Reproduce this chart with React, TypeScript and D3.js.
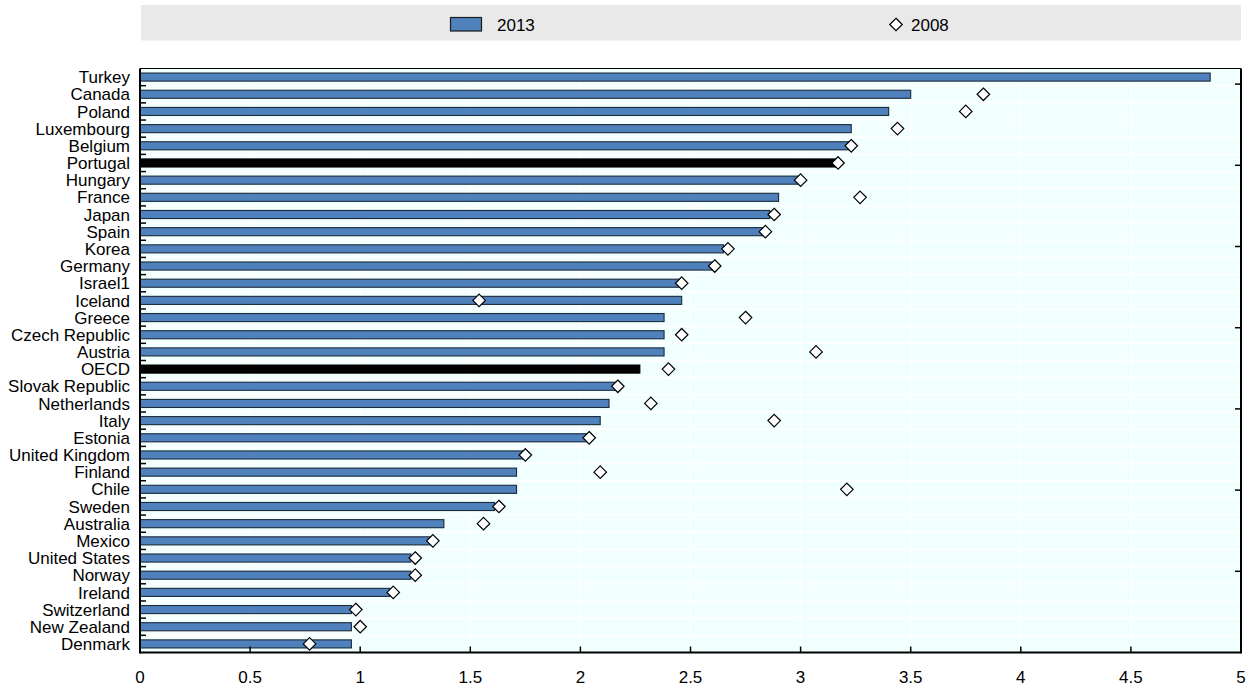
import React from "react";
import * as d3 from "d3";

const countries = ["Turkey","Canada","Poland","Luxembourg","Belgium","Portugal","Hungary","France","Japan","Spain","Korea","Germany","Israel1","Iceland","Greece","Czech Republic","Austria","OECD","Slovak Republic","Netherlands","Italy","Estonia","United Kingdom","Finland","Chile","Sweden","Australia","Mexico","United States","Norway","Ireland","Switzerland","New Zealand","Denmark"];
const values2013 = [4.86,3.50,3.40,3.23,3.22,3.16,2.99,2.90,2.86,2.83,2.65,2.60,2.45,2.46,2.38,2.38,2.38,2.27,2.165,2.13,2.09,2.04,1.74,1.71,1.71,1.61,1.38,1.32,1.23,1.23,1.135,0.96,0.96,0.96];
const values2008: (number | null)[] = [null,3.83,3.75,3.44,3.23,3.17,3.00,3.27,2.88,2.84,2.67,2.61,2.46,1.54,2.75,2.46,3.07,2.40,2.17,2.32,2.88,2.04,1.75,2.09,3.21,1.63,1.56,1.33,1.25,1.25,1.15,0.98,1.00,0.77];
const highlighted = ["Portugal", "OECD"];
const xTicks = [0,0.5,1,1.5,2,2.5,3,3.5,4,4.5,5];
const rightTicks = [1,2,3,4,5,6,7];
const legendLabels = ["2013", "2008"];

const W = 1258, H = 690;
const left = 140, right = 1241, top = 68.5, bottom = 652.5;
const FONT = "'Liberation Sans', Arial, sans-serif";

export default function App() {
  const x = d3.scaleLinear().domain([0, 5]).range([left, right]);
  const y = d3.scaleBand<string>().domain(countries).range([top, bottom]).paddingInner(0.53).paddingOuter(0.265);
  const yr = d3.scaleLinear().domain([0, (bottom - top) / 81.2]).range([bottom, top]);
  const step = y.step();
  const bw = y.bandwidth();
  const diamond = d3.symbol().type(d3.symbolDiamond2).size(100)() as string;
  const bounds = countries.map((_, i) => top + i * step).slice(1);

  return (
    <svg width={W} height={H} style={{ position: "absolute", left: 0, top: 0, background: "#fff" }} fontFamily={FONT}>
      {/* legend */}
      <rect x={141} y={5} width={1100} height={35.5} fill="#E9E9E9" />
      <rect x={450.5} y={17.5} width={31} height={13.5} fill="#4F81BD" stroke="#1a1a1a" strokeWidth={1.2} />
      <text x={497} y={25} dy="0.35em" fontSize={17} fill="#000">{legendLabels[0]}</text>
      <path d={diamond} transform="translate(896,24.5)" fill="#fff" stroke="#000" strokeWidth={1.2} />
      <text x={911} y={25} dy="0.35em" fontSize={17} fill="#000">{legendLabels[1]}</text>

      {/* plot background */}
      <rect x={left} y={top} width={right - left} height={bottom - top} fill="#F2FFFF" />
      {xTicks.slice(1, -1).map(t => (
        <line key={"gv" + t} x1={x(t)} x2={x(t)} y1={top} y2={bottom} stroke="#fff" strokeWidth={1.5} />
      ))}
      {bounds.map((b, i) => (
        <line key={"gh" + i} x1={left} x2={right} y1={b} y2={b} stroke="#fff" strokeWidth={1.5} />
      ))}

      {/* bars */}
      {countries.map((c, i) => {
        const hl = highlighted.includes(c);
        return (
          <rect key={"b" + c} x={x(0)} y={y(c)!} width={x(values2013[i]) - x(0)} height={bw}
            fill={hl ? "#000" : "#4F81BD"} stroke={hl ? "#000" : "#1d2a38"} strokeWidth={1.1} />
        );
      })}

      {/* diamonds */}
      {countries.map((c, i) => values2008[i] == null ? null : (
        <path key={"d" + c} d={diamond} transform={`translate(${x(values2008[i] as number)},${y(c)! + bw / 2})`}
          fill="#fff" stroke="#000" strokeWidth={1.2} />
      ))}

      {/* axes frame */}
      <line x1={left} x2={left} y1={top} y2={bottom + 1} stroke="#000" strokeWidth={2} />
      <line x1={left} x2={right} y1={bottom} y2={bottom} stroke="#000" strokeWidth={2} />
      <line x1={right} x2={right} y1={top} y2={bottom + 1} stroke="#000" strokeWidth={2} />
      <line x1={left} x2={right} y1={top} y2={top} stroke="#000" strokeWidth={1} />

      {/* left ticks */}
      {bounds.map((b, i) => (
        <line key={"lt" + i} x1={left} x2={left + 6} y1={b} y2={b} stroke="#000" strokeWidth={1.5} />
      ))}
      {/* right ticks */}
      {rightTicks.map(t => (
        <line key={"rt" + t} x1={right - 6} x2={right} y1={yr(t)} y2={yr(t)} stroke="#000" strokeWidth={1.5} />
      ))}
      {/* bottom ticks */}
      {xTicks.slice(1, -1).map(t => (
        <line key={"bt" + t} x1={x(t)} x2={x(t)} y1={bottom} y2={bottom - 6} stroke="#000" strokeWidth={1.5} />
      ))}

      {/* labels */}
      {countries.map(c => (
        <text key={"l" + c} x={130} y={y(c)! + bw / 2} dy="0.36em" textAnchor="end" fontSize={17} fill="#000">{c}</text>
      ))}
      {xTicks.map(t => (
        <text key={"xl" + t} x={x(t)} y={677} dy="0.35em" textAnchor="middle" fontSize={17} fill="#000">{String(t)}</text>
      ))}
    </svg>
  );
}
